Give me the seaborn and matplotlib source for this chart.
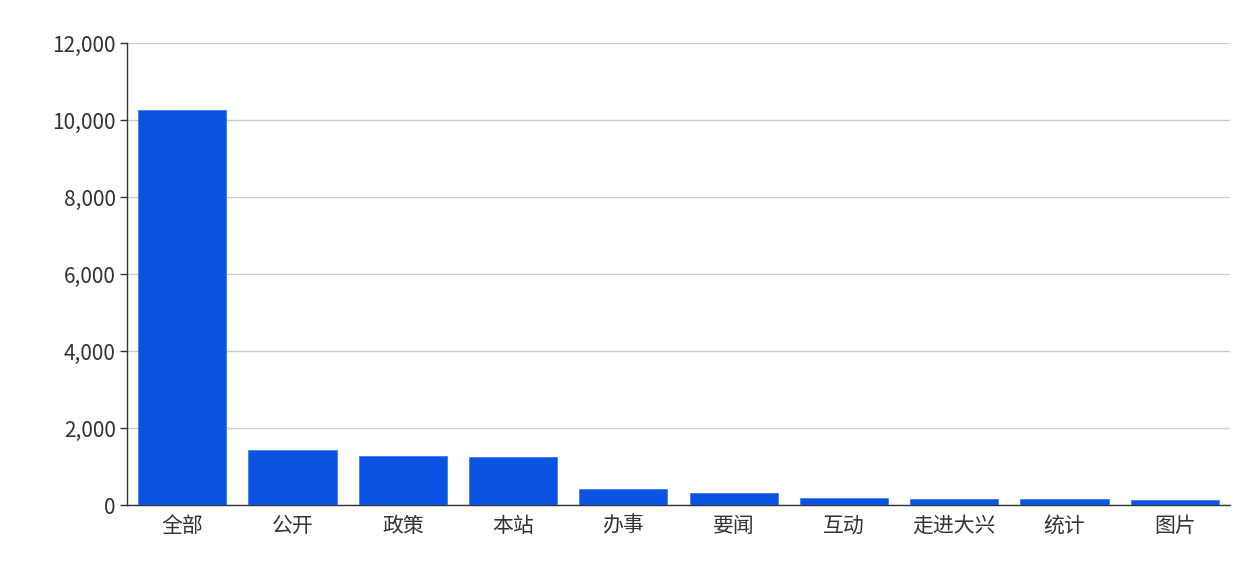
import matplotlib.pyplot as plt
import seaborn as sns
import pandas as pd
import numpy as np

categories = ['全部', '公开', '政策', '本站', '办事', '要闻', '互动', '走进大兴', '统计', '图片']
counts = [10260, 1435, 1285, 1245, 410, 300, 185, 158, 150, 132]
y_ticks = [0, 2000, 4000, 6000, 8000, 10000, 12000]

sns.set_style('white')
plt.rcParams['font.family'] = ['Noto Sans CJK SC', 'DejaVu Sans']

df = pd.DataFrame({'栏目': categories, '数量': counts})

fig = plt.figure(figsize=(12.6, 5.61), dpi=100)
ax = fig.add_axes([127 / 1260, 56 / 561, (1230 - 127) / 1260, (505 - 43) / 561])

sns.barplot(x='栏目', y='数量', data=df, ax=ax, color='#0b53e2', width=0.8,
            saturation=1, edgecolor='#3f7cf0', linewidth=0.6, zorder=3)

ax.set_xlim(-0.5, len(categories) - 0.5)
ax.set_ylim(0, 12000)
ax.set_yticks(y_ticks)
ax.set_yticklabels([f'{v:,}' for v in y_ticks])
ax.yaxis.grid(True, color='#cccccc', linewidth=1, zorder=0)
ax.set_xlabel('')
ax.set_ylabel('')

# category boundaries get the tick marks, labels sit in the middle
ax.set_xticks(np.arange(len(categories) + 1) - 0.5, minor=True)
ax.tick_params(axis='x', which='major', length=0, pad=7, labelsize=15, colors='#333333')
ax.tick_params(axis='x', which='minor', length=5, width=1, color='#333333')
ax.tick_params(axis='y', length=5, width=1, color='#333333', labelsize=15,
               labelcolor='#333333', pad=3, left=True)

for side in ['top', 'right']:
    ax.spines[side].set_visible(False)
for side in ['left', 'bottom']:
    ax.spines[side].set_color('#333333')
    ax.spines[side].set_linewidth(1)

plt.savefig('out.png', dpi=100)
